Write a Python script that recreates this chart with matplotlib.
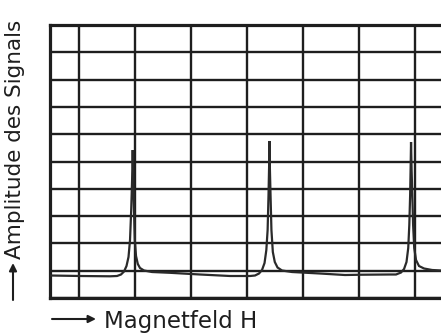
import matplotlib
matplotlib.use("Agg")
import matplotlib.pyplot as plt

# Traced resonance curve: field position in grid divisions, signal amplitude in grid divisions
field = [-0.518, 0.018, 0.554, 0.679, 0.750, 0.804, 0.848, 0.884, 0.911, 0.932, 0.948,
         0.959,
         0.970, 0.982, 0.996, 1.018, 1.050, 1.089, 1.161, 1.304, 1.625, 2.161, 2.696, 3.054,
         3.143, 3.214, 3.268, 3.313, 3.345, 3.368, 3.384, 3.395,
         3.400,
         3.407, 3.420, 3.436, 3.461, 3.496, 3.545, 3.625, 3.804, 4.304, 4.750, 5.054, 5.554,
         5.661, 5.750, 5.804, 5.848, 5.879, 5.898, 5.913, 5.921,
         5.929,
         5.939, 5.952, 5.966, 5.986, 6.018, 6.071, 6.161, 6.304, 6.464]
amplitude = [0.824, 0.806, 0.795, 0.806, 0.861, 0.971, 1.172, 1.502, 2.125, 3.223, 4.322,
             5.420,
             4.322, 3.223, 2.125, 1.538, 1.245, 1.099, 1.007, 0.952, 0.923, 0.861, 0.806, 0.806,
             0.824, 0.897, 1.026, 1.282, 1.758, 2.491, 3.773, 4.872,
             5.751,
             4.872, 3.773, 2.491, 1.685, 1.319, 1.117, 1.007, 0.952, 0.897, 0.842, 0.853, 0.861,
             0.861, 0.934, 1.062, 1.319, 1.832, 2.674, 3.773, 4.689,
             5.714,
             4.689, 3.773, 2.674, 1.832, 1.392, 1.172, 1.081, 1.026, 1.007]

x_grid = [0, 1, 2, 3, 4, 5, 6]
y_grid = [0, 1, 2, 3, 4, 5, 6, 7, 8, 9, 10]

W, H = 441, 334
fig = plt.figure(figsize=(W / 100, H / 100), dpi=100)
fig.patch.set_facecolor("white")

# chart paper: the right edge runs off the page
ax = fig.add_axes([50 / W, 36 / H, (W - 50) / W, 273 / H])
ax.set_xlim(-0.518, 6.464)
ax.set_ylim(0, 10)

ink = "#1e1e1e"
for xv in x_grid:
    ax.axvline(xv, color=ink, lw=1.7, zorder=1)
for yv in y_grid:
    ax.axhline(yv, color=ink, lw=1.7, zorder=1)

ax.plot(field, amplitude, color="#2a2a2a", lw=1.6, solid_joinstyle="miter", zorder=3)

for side in ["left", "top", "bottom"]:
    ax.spines[side].set_linewidth(2.3)
    ax.spines[side].set_color(ink)
ax.spines["right"].set_visible(False)
ax.set_xticks([])
ax.set_yticks([])

# axis captions with arrows
fig.text(104 / W, (H - 328) / H, "Magnetfeld H", fontsize=16.5, color=ink,
         ha="left", va="baseline")
ax.annotate("", xy=(96 / W, (H - 319) / H), xytext=(52 / W, (H - 319) / H),
            xycoords="figure fraction",
            arrowprops=dict(arrowstyle="-|>", lw=1.5, color=ink, mutation_scale=11,
                            shrinkA=0, shrinkB=0))

fig.text(15 / W, (H - 259) / H, "Amplitude des Signals", fontsize=15.5, color=ink,
         rotation=90, ha="center", va="bottom")
ax.annotate("", xy=(13 / W, (H - 263) / H), xytext=(13 / W, (H - 300) / H),
            xycoords="figure fraction",
            arrowprops=dict(arrowstyle="-|>", lw=1.5, color=ink, mutation_scale=11,
                            shrinkA=0, shrinkB=0))

fig.savefig("out.png", dpi=100, facecolor="white")
